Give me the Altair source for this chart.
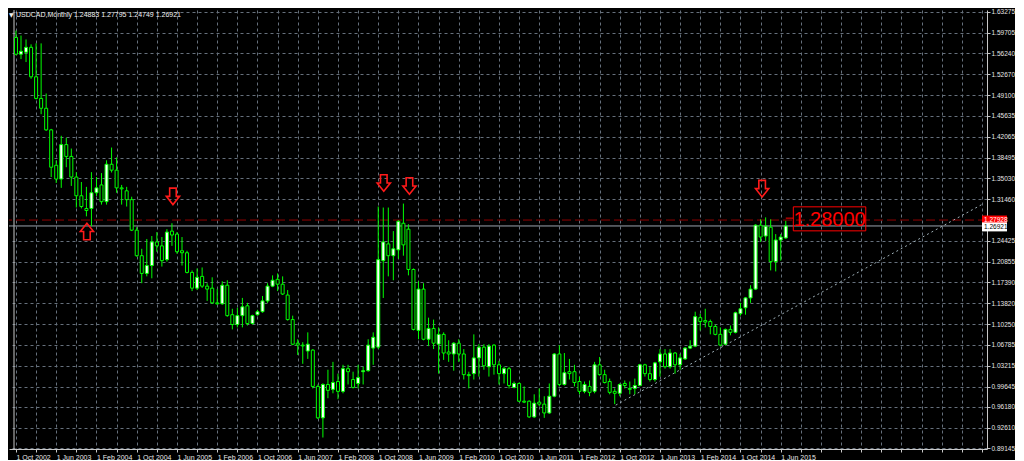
import altair as alt
import pandas as pd

# ---- monthly USDCAD candles, Oct 2002 .. Jul 2015 ----
opens = [1.5893, 1.5609, 1.5643, 1.5726, 1.5225, 1.4858, 1.4691, 1.4324, 1.3723, 1.3489,
         1.4074, 1.3873, 1.3523, 1.3205, 1.2988, 1.2988, 1.3256, 1.3389, 1.3105, 1.3740,
         1.3640, 1.3339, 1.3289, 1.3139, 1.2621, 1.2187, 1.1886, 1.2020, 1.2421, 1.2354,
         1.2120, 1.2605, 1.2554, 1.2271, 1.2237, 1.1903, 1.1636, 1.1836, 1.1670, 1.1636,
         1.1386, 1.1370, 1.1686, 1.1185, 1.1018, 1.1169, 1.1336, 1.1035, 1.1185, 1.1236,
         1.1419, 1.1670, 1.1786, 1.1703, 1.1519, 1.1102, 1.0701, 1.0668, 1.0568, 1.0584,
         0.9967, 0.9433, 1.0000, 0.9917, 1.0050, 0.9883, 1.0268, 1.0084, 1.0017, 1.0217,
         1.0234, 1.0618, 1.0634, 1.2103, 1.2387, 1.2187, 1.2287, 1.2738, 1.2638, 1.1953,
         1.0918, 1.1620, 1.0768, 1.0952, 1.0684, 1.0851, 1.0551, 1.0518, 1.0701, 1.0518,
         1.0167, 1.0184, 1.0451, 1.0634, 1.0301, 1.0668, 1.0334, 1.0184, 1.0268, 0.9950,
         1.0017, 0.9716, 0.9716, 0.9449, 0.9700, 0.9666, 0.9516, 0.9800, 1.0518, 1.0000,
         1.0217, 1.0217, 1.0050, 0.9883, 0.9967, 0.9883, 1.0334, 1.0167, 1.0050, 0.9883,
         0.9850, 1.0017, 0.9933, 0.9933, 0.9983, 1.0334, 1.0184, 1.0084, 1.0384, 1.0518,
         1.0301, 1.0534, 1.0334, 1.0434, 1.0618, 1.0651, 1.1135, 1.1085, 1.1069, 1.0985,
         1.0851, 1.0684, 1.0935, 1.0885, 1.1202, 1.1303, 1.1470, 1.1620, 1.2705, 1.2521,
         1.2671, 1.2087, 1.2454, 1.24883]
highs = [1.6010, 1.5926, 1.5860, 1.5776, 1.5793, 1.5793, 1.4942, 1.4341, 1.3807, 1.4224,
         1.4190, 1.4007, 1.3606, 1.3439, 1.3356, 1.3606, 1.3523, 1.3590, 1.3807, 1.4024,
         1.3857, 1.3389, 1.3356, 1.3189, 1.2671, 1.2304, 1.2471, 1.2521, 1.2588, 1.2504,
         1.2638, 1.2738, 1.2588, 1.2504, 1.2271, 1.1937, 1.1970, 1.1987, 1.1720, 1.1820,
         1.1620, 1.1753, 1.1770, 1.1286, 1.1303, 1.1470, 1.1386, 1.1185, 1.1269, 1.1503,
         1.1720, 1.1853, 1.1886, 1.1836, 1.1603, 1.1169, 1.0768, 1.0718, 1.0885, 1.0601,
         1.0000, 1.0020, 1.0250, 1.0384, 1.0184, 1.0334, 1.0334, 1.0217, 1.0334, 1.0301,
         1.0768, 1.0885, 1.3022, 1.3005, 1.3005, 1.2605, 1.2788, 1.3072, 1.2721, 1.1970,
         1.1753, 1.1720, 1.1135, 1.1102, 1.0969, 1.0885, 1.0751, 1.0718, 1.0768, 1.0601,
         1.0217, 1.0851, 1.0684, 1.0684, 1.0684, 1.0684, 1.0401, 1.0301, 1.0301, 1.0050,
         1.0034, 0.9967, 0.9730, 0.9833, 0.9933, 0.9800, 1.0017, 1.0534, 1.0668, 1.0534,
         1.0434, 1.0334, 1.0134, 1.0050, 1.0067, 1.0384, 1.0467, 1.0250, 1.0100, 0.9933,
         1.0017, 1.0067, 1.0050, 1.0100, 1.0350, 1.0351, 1.0301, 1.0384, 1.0601, 1.0601,
         1.0601, 1.0551, 1.0518, 1.0634, 1.0751, 1.1236, 1.1202, 1.1286, 1.1102, 1.1018,
         1.0969, 1.0950, 1.1002, 1.1236, 1.1386, 1.1486, 1.1686, 1.2721, 1.2805, 1.2838,
         1.2805, 1.2554, 1.2554, 1.27795]
lows = [1.5592, 1.5526, 1.5476, 1.5192, 1.4841, 1.4591, 1.4307, 1.3523, 1.3422, 1.3339,
        1.3690, 1.3372, 1.3005, 1.2990, 1.2855, 1.2688, 1.3200, 1.3055, 1.3055, 1.3600,
        1.3256, 1.3055, 1.3022, 1.2605, 1.2170, 1.1720, 1.1836, 1.1803, 1.2254, 1.2003,
        1.2087, 1.2354, 1.2220, 1.2020, 1.1886, 1.1586, 1.1603, 1.1640, 1.1419, 1.1370,
        1.1353, 1.1353, 1.1150, 1.0935, 1.0969, 1.0969, 1.1002, 1.1018, 1.1169, 1.1219,
        1.1386, 1.1653, 1.1586, 1.1519, 1.1085, 1.0668, 1.0501, 1.0351, 1.0434, 0.9933,
        0.9415, 0.9099, 0.9766, 0.9850, 0.9750, 0.9850, 1.0000, 0.9933, 0.9933, 1.0000,
        1.0217, 1.0334, 1.0600, 1.1469, 1.1836, 1.1770, 1.2137, 1.2187, 1.1853, 1.0918,
        1.0768, 1.0750, 1.0651, 1.0601, 1.0184, 1.0417, 1.0384, 1.0234, 1.0384, 1.0084,
        0.9933, 1.0084, 1.0134, 1.0250, 1.0134, 1.0167, 1.0000, 1.0017, 0.9933, 0.9933,
        0.9700, 0.9683, 0.9433, 0.9433, 0.9633, 0.9433, 0.9499, 0.9783, 0.9967, 0.9983,
        1.0084, 0.9967, 0.9833, 0.9850, 0.9800, 0.9850, 1.0150, 1.0017, 0.9833, 0.9666,
        0.9800, 0.9933, 0.9833, 0.9833, 0.9967, 1.0134, 1.0050, 1.0050, 1.0134, 1.0268,
        1.0268, 1.0184, 1.0250, 1.0417, 1.0601, 1.0634, 1.0918, 1.0969, 1.0851, 1.0835,
        1.0650, 1.0668, 1.0835, 1.0868, 1.1169, 1.1185, 1.1386, 1.1603, 1.2421, 1.2438,
        1.1937, 1.1920, 1.2103, 1.24749]
closes = [1.5609, 1.5659, 1.5726, 1.5225, 1.4858, 1.4691, 1.4324, 1.3690, 1.3489, 1.4074,
          1.3873, 1.3523, 1.3205, 1.3022, 1.2955, 1.3256, 1.3339, 1.3105, 1.3740, 1.3640,
          1.3339, 1.3322, 1.3139, 1.2621, 1.2187, 1.1886, 1.2020, 1.2421, 1.2354, 1.2103,
          1.2588, 1.2538, 1.2254, 1.2237, 1.1903, 1.1636, 1.1820, 1.1670, 1.1620, 1.1386,
          1.1370, 1.1686, 1.1169, 1.1018, 1.1169, 1.1319, 1.1035, 1.1169, 1.1236, 1.1419,
          1.1670, 1.1770, 1.1703, 1.1536, 1.1102, 1.0684, 1.0668, 1.0655, 1.0684, 0.9967,
          0.9433, 1.0000, 0.9900, 1.0033, 0.9883, 1.0268, 1.0217, 0.9950, 1.0117, 1.0234,
          1.0668, 1.0801, 1.2120, 1.2421, 1.2187, 1.2304, 1.2771, 1.2371, 1.1953, 1.0935,
          1.1620, 1.0768, 1.0952, 1.0701, 1.0851, 1.0534, 1.0518, 1.0701, 1.0518, 1.0167,
          1.0150, 1.0451, 1.0634, 1.0317, 1.0651, 1.0334, 1.0184, 1.0268, 0.9983, 1.0017,
          0.9716, 0.9700, 0.9449, 0.9683, 0.9666, 0.9516, 0.9800, 1.0518, 1.0000, 1.0200,
          1.0184, 1.0033, 0.9883, 1.0000, 0.9866, 1.0334, 1.0167, 1.0033, 0.9866, 0.9850,
          1.0000, 0.9983, 0.9917, 0.9983, 1.0334, 1.0184, 1.0084, 1.0367, 1.0518, 1.0301,
          1.0534, 1.0334, 1.0451, 1.0618, 1.0651, 1.1152, 1.1069, 1.1060, 1.0985, 1.0851,
          1.0668, 1.0935, 1.0885, 1.1219, 1.1286, 1.1470, 1.1620, 1.2705, 1.2504, 1.2688,
          1.2087, 1.2454, 1.2504, 1.26921]

x_labels = ["1 Oct 2002", "1 Jun 2003", "1 Feb 2004", "1 Oct 2004", "1 Jun 2005",
            "1 Feb 2006", "1 Oct 2006", "1 Jun 2007", "1 Feb 2008", "1 Oct 2008",
            "1 Jun 2009", "1 Feb 2010", "1 Oct 2010", "1 Jun 2011", "1 Feb 2012",
            "1 Oct 2012", "1 Jun 2013", "1 Feb 2014", "1 Oct 2014", "1 Jun 2015"]
y_ticks = [1.63275, 1.59705, 1.56240, 1.52670, 1.49100, 1.45635, 1.42065, 1.38495,
           1.35030, 1.31460, 1.24425, 1.20855, 1.17390, 1.13820, 1.10250, 1.06785,
           1.03215, 0.99645, 0.96180, 0.92610, 0.89145]

title_text = "USDCAD,Monthly  1.24883 1.27795 1.24749 1.26921"
level_price = 1.27928
bid_price = 1.26921
label_text = "1.28000"

# drawn objects (month index, price)
down_arrow_i = [31.2, 73.1, 78.2, 148.3]
down_arrow_p = [1.3195, 1.3422, 1.3372, 1.3326]
up_arrow_i = [14.1]
up_arrow_p = [1.2599]
trend_i = [119.2, 192.4]
trend_p = [0.9649, 1.3076]
box_i = [154.5, 168.9]
box_p = [1.3017, 1.2609]

# ---------------------------------------------------------------------------
GREEN = "#00ff00"
GRID = "#66707c"
AXIS = "#c8c8c8"
FONT = "Liberation Sans"
W, H = 978, 439
XMIN, XMAX = -0.393, 192.0
YMIN, YMAX = 0.8904, 1.6360

df = pd.DataFrame({"i": list(range(len(opens))), "open": opens, "high": highs,
                   "low": lows, "close": closes})

xs = alt.Scale(domain=[XMIN, XMAX], nice=False, zero=False)
ys = alt.Scale(domain=[YMIN, YMAX], nice=False, zero=False)

arr = "[" + ",".join("'" + s + "'" for s in x_labels) + "]"
label_expr = ("(datum.value % 8 == 0 && datum.value / 8 < " + str(len(x_labels)) +
              ") ? " + arr + "[datum.value / 8] : ''")

x_axis = alt.Axis(values=list(range(0, 193, 4)), labelExpr=label_expr, grid=True,
                  gridColor=GRID, gridDash=[3, 3], gridWidth=1, domainColor=AXIS,
                  tickColor=AXIS, tickSize=3, labelColor="#e6e6e6", labelFont=FONT,
                  labelFontSize=7, labelAlign="left", labelPadding=1, labelOverlap=False,
                  labelFlush=False, title=None, orient="bottom")
y_axis = alt.Axis(values=y_ticks, format=".5f", grid=True, gridColor=GRID,
                  gridDash=[3, 3], gridWidth=1, domainColor=AXIS, tickColor=AXIS,
                  tickSize=3, labelColor="#e6e6e6", labelFont=FONT, labelFontSize=6.5,
                  labelAlign="left", labelPadding=1, labelOverlap=False,
                  labelFlush=False, title=None, orient="right")


def X(field):
    return alt.X(field, scale=xs, axis=x_axis)


def Y(field):
    return alt.Y(field, scale=ys, axis=y_axis)


base = alt.Chart(df)

wicks = base.mark_rule(color=GREEN, strokeWidth=1).encode(
    x=X("i:Q"), y=Y("low:Q"), y2="high:Q")
bodies = base.mark_bar(size=3, stroke=GREEN, strokeWidth=1).encode(
    x=X("i:Q"), y=Y("open:Q"), y2="close:Q",
    fill=alt.condition("datum.close > datum.open", alt.value("#ffffff"), alt.value("#000000")),
)

left_border = alt.Chart(pd.DataFrame({"v": [XMIN]})).mark_rule(color=AXIS).encode(
    x=X("v:Q"))

red_line = alt.Chart(pd.DataFrame({"p": [level_price]})).mark_rule(
    color="#900000", strokeDash=[9, 4]).encode(y=Y("p:Q"))
bid_line = alt.Chart(pd.DataFrame({"p": [bid_price]})).mark_rule(color="#9aa2ac").encode(
    y=Y("p:Q"))

trend = alt.Chart(pd.DataFrame({"i": trend_i, "p": trend_p})).mark_line(
    color="#9fb0b8", strokeDash=[2, 3], strokeWidth=1, clip=True).encode(
    x=X("i:Q"), y=Y("p:Q"))

DOWN = "M -0.4 -1 L 0.4 -1 L 0.4 0 L 0.8 0 L 0 1 L -0.8 0 L -0.4 0 Z"
UP = "M -0.4 1 L 0.4 1 L 0.4 0 L 0.8 0 L 0 -1 L -0.8 0 L -0.4 0 Z"
down_arrows = alt.Chart(pd.DataFrame({"i": down_arrow_i, "p": down_arrow_p})).mark_point(
    shape=DOWN, size=272, filled=False, stroke="#ff1a1a", strokeWidth=1.6, opacity=1).encode(
    x=X("i:Q"), y=Y("p:Q"))
up_arrows = alt.Chart(pd.DataFrame({"i": up_arrow_i, "p": up_arrow_p})).mark_point(
    shape=UP, size=272, filled=False, stroke="#ff1a1a", strokeWidth=1.6, opacity=1).encode(
    x=X("i:Q"), y=Y("p:Q"))

box_df = pd.DataFrame({"i": [box_i[0]], "i2": [box_i[1]], "p": [box_p[0]], "p2": [box_p[1]],
                       "ic": [(box_i[0] + box_i[1]) / 2], "pc": [(box_p[0] + box_p[1]) / 2],
                       "t": [label_text]})
box = alt.Chart(box_df).mark_rect(fill=None, stroke="#ff0000", strokeWidth=1).encode(
    x=X("i:Q"), x2="i2:Q", y=Y("p:Q"), y2="p2:Q")
box_text = alt.Chart(box_df).mark_text(font=FONT, fontSize=20, color="#ff0000",
                                       align="center", baseline="middle", dy=1).encode(
    x=X("ic:Q"), y=Y("pc:Q"), text="t:N")
box_stub = alt.Chart(pd.DataFrame({"i": [153.0], "i2": [box_i[0]], "p": [1.2825]})).mark_rule(
    color="#ff0000").encode(x=X("i:Q"), x2="i2:Q", y=Y("p:Q"))

TAG = "M 0 -0.36 L 2 -0.36 L 2 0.36 L 0 0.36 Z"
tags = pd.DataFrame({"x": [XMAX, XMAX], "p": [level_price, bid_price - 0.0016],
                     "t": ["%.5f" % level_price, "%.5f" % bid_price],
                     "bg": ["#ff0000", "#ffffff"], "fg": ["#ffffff", "#000000"]})
tag_bg = alt.Chart(tags).mark_point(shape=TAG, size=625, filled=True, strokeWidth=0,
                                    opacity=1).encode(
    x=X("x:Q"), y=Y("p:Q"), fill=alt.Fill("bg:N", scale=None))
tag_text = alt.Chart(tags).mark_text(font=FONT, fontSize=6.5, align="left", baseline="middle",
                                     dx=2).encode(
    x=X("x:Q"), y=Y("p:Q"), text="t:N", color=alt.Color("fg:N", scale=None))

title = alt.Chart(pd.DataFrame({"t": [title_text]})).mark_text(
    font=FONT, fontSize=7, color="#f0f0f0", align="left", baseline="top").encode(
    x=alt.value(7), y=alt.value(1), text="t:N")
tri = alt.Chart(pd.DataFrame({"t": ["\u25bc"]})).mark_text(
    font="DejaVu Sans", fontSize=6, color="#f0f0f0", align="left", baseline="top").encode(
    x=alt.value(0), y=alt.value(2), text="t:N")

chart = alt.layer(
    left_border, red_line, bid_line, trend, wicks, bodies, box, box_text, box_stub,
    down_arrows, up_arrows, tag_bg, tag_text, title, tri,
).properties(width=W, height=H, padding=0, background="#000000").configure_view(
    stroke=None, fill="#000000")

chart.save("out.html", embed_options={"renderer": "svg", "actions": False})
